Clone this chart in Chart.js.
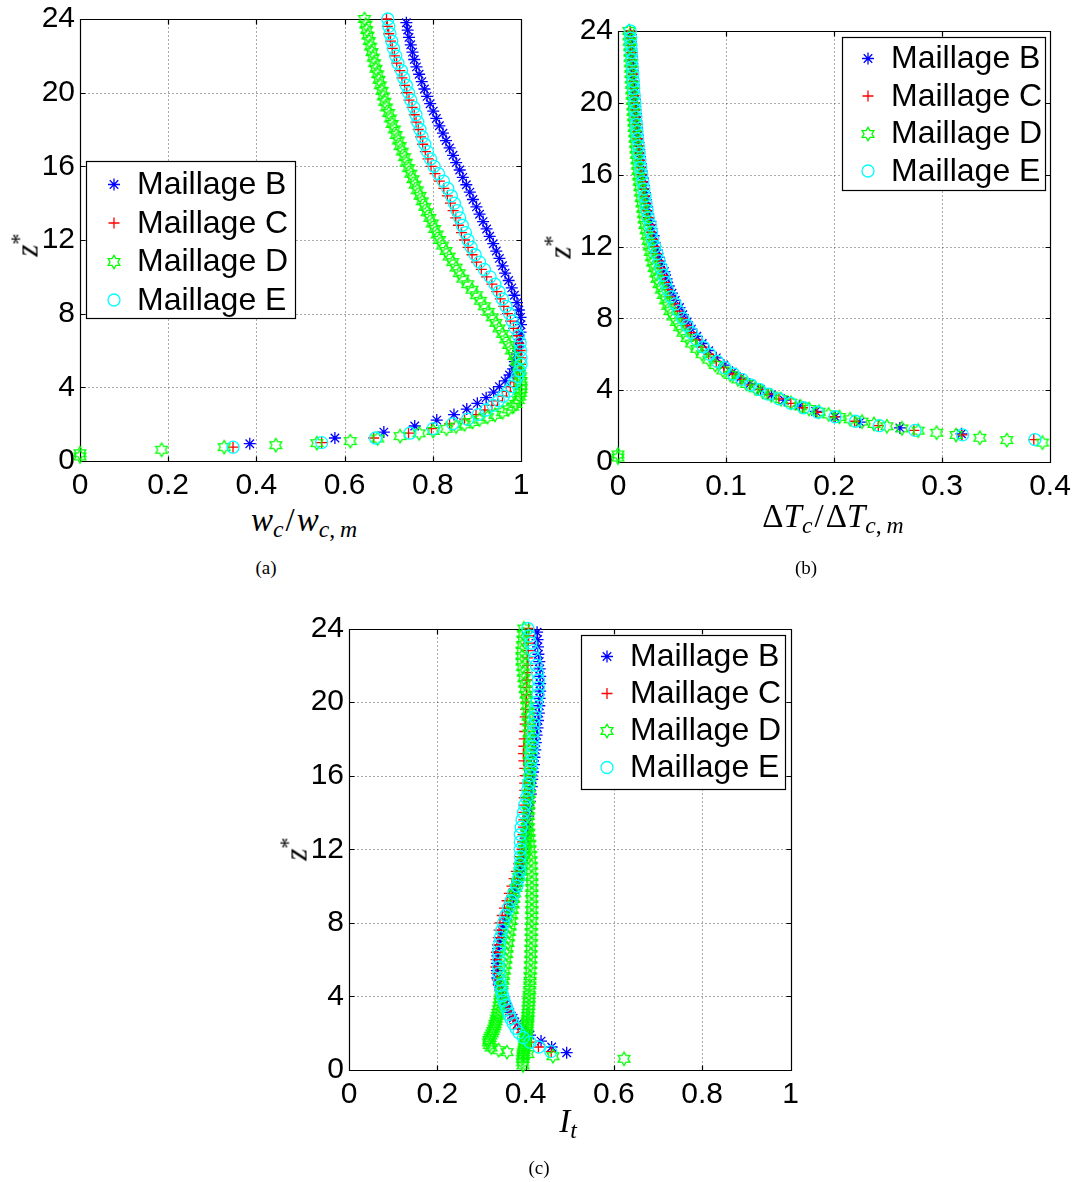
<!DOCTYPE html>
<html>
<head>
<meta charset="utf-8">
<title>Profils - maillages B, C, D, E</title>
<script src="https://cdn.jsdelivr.net/npm/chart.js@4.4.1/dist/chart.umd.min.js"></script>
<style>
  html, body { margin:0; padding:0; background:#fff; }
  #page { position:relative; width:1078px; height:1182px; background:#fff; overflow:hidden; }
  #page canvas { position:absolute; }
  .t { position:absolute; font-family:"Liberation Serif","DejaVu Serif",serif; color:#000; white-space:nowrap; line-height:1; transform:translate(-50%,-50%); }
  .xt { font-size:33px; }
  .yt { font-size:31px; transform:translate(-50%,-50%) rotate(-90deg); }
  .cap { font-size:19px; }
  .t sub { font-size:0.72em; vertical-align:-0.28em; line-height:0; }
  .t sup { font-size:0.72em; vertical-align:0.5em; line-height:0; }
  .sl { margin:0 2px; }
</style>
</head>
<body>
<div id="page">
  <canvas id="ca" width="540" height="500" style="left:0px;top:0px;width:540px;height:500px"></canvas>
  <canvas id="cb" width="538" height="500" style="left:540px;top:0px;width:538px;height:500px"></canvas>
  <canvas id="cc" width="540" height="520" style="left:270px;top:590px;width:540px;height:520px"></canvas>

  <div class="t xt" style="left:304px;top:520px"><i>w</i><sub><i>c</i></sub><span class="sl">/</span><i>w</i><sub><i>c</i>,&thinsp;<i>m</i></sub></div>
  <div class="t xt" style="left:833px;top:516px">&Delta;<i>T</i><sub><i>c</i></sub><span class="sl">/</span>&Delta;<i>T</i><sub><i>c</i>,&thinsp;<i>m</i></sub></div>
  <div class="t xt" style="left:568px;top:1121px"><i>I</i><sub><i>t</i></sub></div>

  <div class="t yt" style="left:27px;top:245px"><i>z</i><sup>*</sup></div>
  <div class="t yt" style="left:560px;top:247px"><i>z</i><sup>*</sup></div>
  <div class="t yt" style="left:296px;top:849px"><i>z</i><sup>*</sup></div>

  <div class="t cap" style="left:266px;top:567px">(a)</div>
  <div class="t cap" style="left:806px;top:567px">(b)</div>
  <div class="t cap" style="left:539px;top:1167px">(c)</div>
</div>
<script>
// ---------------- DATA ----------------
// z* grids of the four meshes
const zB = [0.94,1.25,1.57,1.9,2.22,2.52,2.82,3.13,3.44,3.74,4.04,4.35,4.67,
  5.0,5.4,5.8,6.2,6.6,7.0,7.4,7.8,8.2,8.6,
  9.0,9.4,9.8,10.2,10.6,11.0,11.4,11.8,12.2,12.6,
  13.0,13.4,13.8,14.2,14.6,15.0,15.4,15.8,16.2,16.6,
  17.0,17.4,17.8,18.2,18.6,19.0,19.4,19.8,20.2,20.6,
  21.0,21.4,21.8,22.2,22.6,23.0,23.4,23.8];
const zC = [0.75,1.0,1.25,1.51,1.76,2.02,2.27,2.52,2.77,3.02,3.27,3.52,3.78,4.04,4.3,4.6,4.9,5.25,5.6,
  6.0,6.4,6.8,7.2,7.6,8.0,8.4,8.8,9.2,9.6,
  10.0,10.4,10.8,11.2,11.6,12.0,12.4,12.8,13.2,13.6,
  14.0,14.4,14.8,15.2,15.6,16.0,16.4,16.8,17.2,17.6,
  18.0,18.4,18.8,19.2,19.6,20.0,20.4,20.8,21.2,21.6,
  22.0,22.4,22.8,23.2,23.6,24.0];
const zE = zC;
const zD = [0.25,0.42,0.61,0.75,0.86,0.97,1.08,1.22,1.35,1.5,
  1.63,1.75,1.87,1.99,2.12,2.25,2.38,2.51,2.65,2.8,
  2.95,3.1,3.3,3.5,3.7,3.9,4.1,4.35,4.6,4.85,
  5.1,
  5.4,5.7,6.0,6.3,6.6,6.9,7.2,7.5,7.8,8.1,
  8.4,8.7,9.0,9.3,9.6,9.9,10.2,10.5,10.8,11.1,
  11.4,11.7,12.0,12.3,12.6,12.9,13.2,13.5,13.8,14.1,
  14.4,14.7,15.0,15.3,15.6,15.9,16.2,16.5,16.8,17.1,
  17.4,17.7,18.0,18.3,18.6,18.9,19.2,19.5,19.8,20.1,
  20.4,20.7,21.0,21.3,21.6,21.9,22.2,22.5,22.8,23.1,
  23.4,23.7,24.0];

// (a) w_c / w_c,m
const wB = [0.385,0.578,0.689,0.759,0.809,0.848,0.877,0.901,0.921,0.938,0.951,0.964,0.974,
  0.982,0.986,0.990,0.994,0.997,0.999,1.0,0.999,0.995,0.991,
  0.985,0.979,0.972,0.964,0.958,0.951,0.944,0.937,0.929,0.922,
  0.914,0.906,0.899,0.891,0.884,0.876,0.868,0.861,0.853,0.846,
  0.838,0.830,0.823,0.815,0.808,0.801,0.794,0.787,0.781,0.775,
  0.769,0.763,0.758,0.754,0.750,0.746,0.743,0.740];
const wC = [0.347,0.548,0.666,0.745,0.797,0.838,0.872,0.898,0.918,0.934,0.947,0.958,0.967,0.976,0.984,0.991,0.996,0.999,1.0,
  0.998,0.995,0.990,0.983,0.976,0.969,0.961,0.953,0.945,0.934,
  0.922,0.910,0.899,0.889,0.880,0.872,0.865,0.858,0.852,0.846,
  0.840,0.833,0.825,0.815,0.805,0.796,0.789,0.783,0.777,0.772,
  0.767,0.762,0.758,0.753,0.746,0.741,0.736,0.730,0.725,0.718,
  0.713,0.708,0.704,0.700,0.697,0.695];
const wD = [0,0,0.185,0.327,0.444,0.537,0.613,0.675,0.726,0.769,
  0.801,0.831,0.853,0.872,0.890,0.906,0.924,0.941,0.958,0.971,
  0.981,0.988,0.994,0.997,0.999,1.0,1.0,1.0,0.999,0.997,
  0.994,
  0.989,0.984,0.978,0.972,0.965,0.958,0.950,0.943,0.935,0.926,
  0.917,0.908,0.899,0.889,0.879,0.868,0.860,0.853,0.845,0.837,
  0.830,0.822,0.815,0.810,0.804,0.799,0.793,0.787,0.782,0.776,
  0.771,0.765,0.760,0.755,0.750,0.745,0.740,0.736,0.731,0.726,
  0.722,0.717,0.713,0.708,0.704,0.700,0.695,0.691,0.688,0.685,
  0.681,0.678,0.675,0.671,0.668,0.665,0.662,0.659,0.656,0.653,
  0.650,0.648,0.645];
const wE = [0.347,0.548,0.670,0.748,0.801,0.845,0.879,0.903,0.921,0.937,0.949,0.960,0.970,0.979,0.986,0.992,0.997,1.0,1.0,
  0.999,0.998,0.994,0.987,0.980,0.974,0.966,0.958,0.950,0.941,
  0.930,0.917,0.906,0.896,0.887,0.880,0.874,0.867,0.861,0.855,
  0.849,0.842,0.834,0.824,0.813,0.803,0.795,0.788,0.782,0.776,
  0.771,0.766,0.762,0.757,0.750,0.745,0.740,0.734,0.729,0.721,
  0.716,0.711,0.707,0.703,0.700,0.698];

// (b) DeltaT_c / DeltaT_c,m  (null = outside the 0..0.4 window)
const dtB = [null,null,0.318,0.261,0.224,0.201,0.183,0.168,0.154,0.142,0.132,0.122,0.113,
  0.106,0.098,0.091,0.084,0.078,0.073,0.068,0.064,0.060,0.057,
  0.053,0.050,0.047,0.045,0.043,0.040,0.038,0.036,0.034,0.033,
  0.031,0.030,0.028,0.027,0.026,0.025,0.024,0.023,0.022,0.0212,
  0.0204,0.0197,0.0190,0.0183,0.0177,0.0171,0.0165,0.0160,0.0155,0.0150,
  0.0145,0.0140,0.0136,0.0132,0.0128,0.0124,0.0120,0.0117];
const dtC = [null,null,0.385,0.3185,0.274,0.241,0.219,0.200,0.184,0.171,0.160,0.149,0.139,0.130,0.122,0.114,0.106,0.098,0.091,
  0.084,0.078,0.072,0.067,0.063,0.059,0.055,0.052,0.048,0.046,
  0.043,0.041,0.039,0.037,0.035,0.033,0.032,0.030,0.029,0.028,
  0.0265,0.0255,0.0245,0.0235,0.0225,0.0215,0.0207,0.0200,0.0193,0.0186,
  0.0180,0.0174,0.0169,0.0164,0.0159,0.0154,0.0149,0.0145,0.0140,0.0136,
  0.0132,0.0128,0.0124,0.0120,0.0116,0.0112];
const dtD = [0,0,null,null,null,null,0.393,0.360,0.335,0.313,
  0.295,0.278,0.263,0.249,0.237,0.226,0.215,0.205,0.195,0.186,
  0.177,0.169,0.160,0.151,0.142,0.134,0.127,0.119,0.111,0.104,
  0.097,
  0.090,0.084,0.078,0.073,0.068,0.064,0.060,0.057,0.054,0.051,
  0.048,0.046,0.044,0.042,0.040,0.038,0.036,0.035,0.0335,0.032,
  0.031,0.030,0.029,0.028,0.027,0.026,0.025,0.0243,0.0236,0.0229,
  0.0222,0.0215,0.0209,0.0203,0.0197,0.0191,0.0186,0.0181,0.0176,0.0171,
  0.0167,0.0163,0.0159,0.0155,0.0151,0.0147,0.0144,0.0141,0.0138,0.0135,
  0.0132,0.0129,0.0126,0.0123,0.0121,0.0118,0.0116,0.0113,0.0111,0.0109,
  0.0106,0.0104,0.0102];
const dtE = [null,null,0.386,0.319,0.275,0.242,0.220,0.201,0.185,0.172,0.160,0.149,0.139,0.131,0.123,0.115,0.107,0.099,0.092,
  0.085,0.079,0.073,0.068,0.064,0.060,0.056,0.053,0.049,0.046,
  0.044,0.042,0.040,0.038,0.036,0.034,0.032,0.031,0.030,0.028,
  0.027,0.026,0.025,0.024,0.023,0.022,0.021,0.0203,0.0196,0.0189,
  0.0182,0.0176,0.0171,0.0166,0.0161,0.0156,0.0151,0.0146,0.0142,0.0137,
  0.0133,0.0129,0.0125,0.0121,0.0117,0.0113];

// (c) I_t
const itB = [0.493,0.459,0.435,0.410,0.393,0.382,0.372,0.364,0.358,0.353,0.348,0.343,0.339,
  0.336,0.335,0.335,0.336,0.338,0.341,0.345,0.350,0.355,0.361,
  0.367,0.372,0.377,0.382,0.386,0.389,0.392,0.395,0.397,0.400,
  0.402,0.404,0.406,0.408,0.410,0.412,0.414,0.415,0.417,0.419,
  0.420,0.422,0.423,0.425,0.427,0.428,0.430,0.431,0.432,0.433,
  0.433,0.433,0.432,0.431,0.429,0.428,0.427,0.426];
const itC = [null,0.458,0.429,0.413,0.401,0.391,0.383,0.376,0.371,0.366,0.362,0.358,0.352,0.347,0.343,0.339,0.336,0.334,0.333,
  0.333,0.334,0.336,0.338,0.340,0.342,0.347,0.352,0.358,0.363,
  0.369,0.374,0.379,0.384,0.388,0.392,0.393,0.394,0.395,0.396,
  0.396,0.397,0.397,0.398,0.398,0.399,0.398,0.396,0.395,0.396,
  0.397,0.398,0.399,0.399,0.400,0.401,0.402,0.402,0.403,0.404,
  0.405,0.405,0.406,0.406,0.407,0.407];
const itD = [null,null,0.623,0.462,0.405,0.358,0.339,0.322,0.318,0.316,
  0.317,0.319,0.321,0.324,0.326,0.328,0.330,0.331,0.333,0.334,
  0.336,0.337,0.339,0.340,0.342,0.343,0.344,0.346,0.347,0.349,
  0.350,
  0.352,0.354,0.355,0.357,0.358,0.360,0.361,0.363,0.365,0.367,
  0.368,0.370,0.372,0.373,0.375,0.378,0.381,0.384,0.387,0.390,
  0.393,0.396,0.398,0.400,0.402,0.403,0.404,0.405,0.406,0.406,
  0.407,0.407,0.408,0.408,0.408,0.409,0.409,0.409,0.409,0.409,
  0.409,0.409,0.409,0.408,0.408,0.407,0.406,0.405,0.404,0.403,
  0.401,0.399,0.398,0.396,0.395,0.393,0.392,0.392,0.392,0.393,
  0.394,0.395,0.396];
// second near-vertical D branch visible in (c), on the first zD levels
const itD2 = [0.394,0.393,0.393,0.394,0.395,0.395,0.396,0.397,0.398,0.399,
  0.400,0.400,0.401,0.402,0.402,0.403,0.403,0.404,0.404,0.405,
  0.405,0.406,0.406,0.407,0.407,0.408,0.408,0.409,0.409,0.410,
  0.410,
  0.411,0.411,0.412,0.412,0.412,0.413,0.413,0.413,0.413,0.414,
  0.414,0.414,0.414,0.414,0.414,0.414,0.414,0.414,0.413,0.413,
  0.412,0.411,0.410,0.409,0.408,0.407,0.406];
const itE = [null,0.457,0.430,0.410,0.395,0.385,0.378,0.372,0.367,0.362,0.359,0.355,0.351,0.348,0.346,0.343,0.341,0.339,0.339,
  0.339,0.339,0.341,0.343,0.346,0.350,0.355,0.361,0.367,0.373,
  0.380,0.384,0.387,0.388,0.388,0.388,0.388,0.388,0.390,0.392,
  0.395,0.398,0.402,0.405,0.407,0.410,0.412,0.413,0.414,0.416,
  0.417,0.418,0.419,0.421,0.423,0.425,0.428,0.429,0.429,0.427,
  0.424,0.420,0.416,0.412,0.408,0.405];

const seriesLabels = ['Maillage B','Maillage C','Maillage D','Maillage E'];

// ---------------- STYLE ----------------
const MARK_LW = 1.3;
function makeHexagram(R, color) {
  const s = Math.ceil(2 * R + 4);
  const c = document.createElement('canvas');
  c.width = s; c.height = s;
  const g = c.getContext('2d');
  g.strokeStyle = color; g.lineWidth = MARK_LW;
  g.beginPath();
  const r = R / Math.sqrt(3);
  for (let k = 0; k < 12; k++) {
    const ang = -Math.PI / 2 + k * Math.PI / 6;
    const rr = (k % 2) ? r : R;
    const px = s / 2 + rr * Math.cos(ang), py = s / 2 + rr * Math.sin(ang);
    if (k) g.lineTo(px, py); else g.moveTo(px, py);
  }
  g.closePath(); g.stroke();
  return c;
}
const hexImg = makeHexagram(6.8, '#00ff00');
const SERIES = [
  { color:'#0000ff', style:'star',   radius:6,   order:4 },
  { color:'#ff0000', style:'cross',  radius:5.5, order:3 },
  { color:'#00ff00', style:hexImg,   radius:6.8, order:2 },
  { color:'#00ffff', style:'circle', radius:6,   order:1 }
];
const TICK_FONT = { family: '"Liberation Sans", Arial, Helvetica, sans-serif', size: 30 };
const LEGEND_FONT = '32px "Liberation Sans", Arial, Helvetica, sans-serif';

function pts(xs, zs) {
  const out = [];
  for (let i = 0; i < xs.length; i++) {
    if (xs[i] !== null && xs[i] !== undefined) out.push({ x: xs[i], y: zs[i] });
  }
  return out;
}
function ds(i, data) {
  const s = SERIES[i];
  return {
    label: seriesLabels[i], data, showLine: false, clip: false, order: s.order,
    pointStyle: s.style, pointRadius: s.radius, pointHoverRadius: s.radius,
    pointBorderColor: s.color, pointBackgroundColor: 'rgba(0,0,0,0)', pointBorderWidth: MARK_LW,
    borderColor: s.color, backgroundColor: 'rgba(0,0,0,0)'
  };
}

function drawMarker(ctx, i, x, y) {
  const s = SERIES[i], r = s.radius;
  ctx.save();
  ctx.strokeStyle = s.color; ctx.lineWidth = MARK_LW;
  if (s.style instanceof HTMLCanvasElement) {
    ctx.drawImage(s.style, Math.round(x - s.style.width / 2), Math.round(y - s.style.height / 2));
  } else {
    ctx.beginPath();
    if (s.style === 'star' || s.style === 'cross') {
      ctx.moveTo(x - r, y); ctx.lineTo(x + r, y);
      ctx.moveTo(x, y - r); ctx.lineTo(x, y + r);
      if (s.style === 'star') {
        const d = r * Math.SQRT1_2;
        ctx.moveTo(x - d, y - d); ctx.lineTo(x + d, y + d);
        ctx.moveTo(x - d, y + d); ctx.lineTo(x + d, y - d);
      }
    } else {
      ctx.arc(x, y, r, 0, Math.PI * 2);
    }
    ctx.stroke();
  }
  ctx.restore();
}

const framePlugin = {
  id: 'matlabFrame',
  beforeDatasetsDraw(chart) {
    const { ctx, chartArea: a } = chart;
    const xs = chart.scales.x, ys = chart.scales.y;
    const L = Math.round(a.left) + 0.5, R = Math.round(a.right) + 0.5;
    const T = Math.round(a.top) + 0.5, B = Math.round(a.bottom) + 0.5;
    const px = v => Math.round(xs.getPixelForValue(v)) + 0.5;
    const py = v => Math.round(ys.getPixelForValue(v)) + 0.5;
    ctx.save();
    ctx.lineWidth = 1;
    ctx.strokeStyle = '#555';
    ctx.setLineDash([1, 3]);
    ctx.beginPath();
    xs.ticks.forEach(t => { const p = px(t.value); if (p > L + 1 && p < R - 1) { ctx.moveTo(p, T); ctx.lineTo(p, B); } });
    ys.ticks.forEach(t => { const p = py(t.value); if (p > T + 1 && p < B - 1) { ctx.moveTo(L, p); ctx.lineTo(R, p); } });
    ctx.stroke();
    ctx.setLineDash([]);
    ctx.strokeStyle = '#000';
    ctx.lineWidth = 1.2;
    ctx.beginPath();
    ctx.rect(L, T, R - L, B - T);
    const tl = 5;
    xs.ticks.forEach(t => { const p = px(t.value); ctx.moveTo(p, B); ctx.lineTo(p, B - tl); ctx.moveTo(p, T); ctx.lineTo(p, T + tl); });
    ys.ticks.forEach(t => { const p = py(t.value); ctx.moveTo(L, p); ctx.lineTo(L + tl, p); ctx.moveTo(R, p); ctx.lineTo(R - tl, p); });
    ctx.stroke();
    ctx.restore();
  },
  afterDraw(chart, args, opts) {
    const lg = opts && opts.legend;
    if (!lg) return;
    const ctx = chart.ctx;
    ctx.save();
    ctx.fillStyle = '#fff';
    ctx.fillRect(lg.x, lg.y, lg.w, lg.h);
    ctx.strokeStyle = '#000'; ctx.lineWidth = 1.2;
    ctx.strokeRect(Math.round(lg.x) + 0.5, Math.round(lg.y) + 0.5, Math.round(lg.w), Math.round(lg.h));
    ctx.font = LEGEND_FONT;
    ctx.textBaseline = 'middle';
    ctx.textAlign = 'left';
    seriesLabels.forEach((lab, i) => {
      drawMarker(ctx, i, lg.mx, lg.rows[i]);
      ctx.fillStyle = '#000';
      ctx.fillText(lab, lg.tx, lg.rows[i] + 1);
    });
    ctx.restore();
  }
};

function axis(min, max, step, isX, size) {
  return {
    type: 'linear', min, max,
    ticks: {
      stepSize: step, autoSkip: false, maxRotation: 0, minRotation: 0,
      color: '#000', font: TICK_FONT, padding: isX ? 7 : 5,
      callback: v => String(Math.round(v * 1000) / 1000)
    },
    grid: { display: false, drawTicks: false },
    border: { display: false },
    afterFit: s => {
      if (isX) s.height = size; else s.width = size;
      s.paddingLeft = 0; s.paddingRight = 0; s.paddingTop = 0; s.paddingBottom = 0;
    }
  };
}

function makeChart(id, xAxis, yAxis, pad, datasets, legend) {
  return new Chart(document.getElementById(id), {
    type: 'scatter',
    data: { datasets },
    options: {
      responsive: false, maintainAspectRatio: false, animation: false, events: [], devicePixelRatio: 1,
      layout: { padding: pad },
      plugins: { legend: { display: false }, tooltip: { enabled: false }, matlabFrame: { legend } },
      scales: { x: xAxis, y: yAxis }
    },
    plugins: [framePlugin]
  });
}

// (a)
makeChart('ca',
  axis(0, 1, 0.2, true, 39), axis(0, 24, 4, false, 70),
  { left: 10, top: 19, right: 19, bottom: 0 },
  [ds(0, pts(wB, zB)), ds(1, pts(wC, zC)), ds(2, pts(wD, zD)), ds(3, pts(wE, zE))],
  { x: 86, y: 161, w: 209, h: 157, mx: 114, tx: 137, rows: [184.5, 223, 261.5, 300] });

// (b)
makeChart('cb',
  axis(0, 0.4, 0.1, true, 38), axis(0, 24, 4, false, 68),
  { left: 10, top: 31, right: 28, bottom: 0 },
  [ds(0, pts(dtB, zB)), ds(1, pts(dtC, zC)), ds(2, pts(dtD, zD)), ds(3, pts(dtE, zE))],
  { x: 302, y: 37, w: 203, h: 153, mx: 328, tx: 351, rows: [58.5, 96, 133.5, 171] });

// (c)
makeChart('cc',
  axis(0, 1, 0.2, true, 40), axis(0, 24, 4, false, 69),
  { left: 10, top: 38.5, right: 19.5, bottom: 0 },
  [ds(0, pts(itB, zB)), ds(1, pts(itC, zC)),
   ds(2, pts(itD, zD).concat(pts(itD2, zD.slice(0, itD2.length)))), ds(3, pts(itE, zE))],
  { x: 310.5, y: 44.5, w: 203.5, h: 153.5, mx: 337, tx: 360, rows: [66.5, 103.5, 140.5, 177.5] });
</script>
</body>
</html>
